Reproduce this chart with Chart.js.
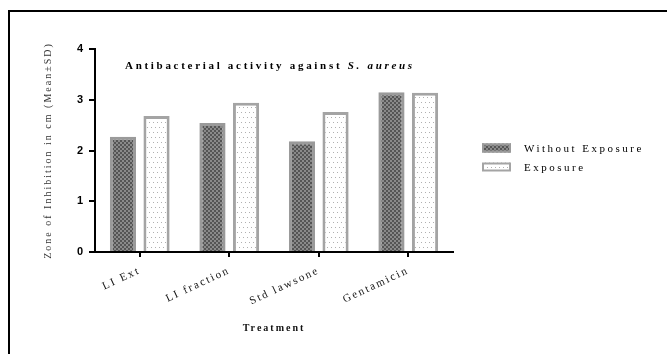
<!DOCTYPE html>
<html>
<head>
<meta charset="utf-8">
<script src="https://cdn.jsdelivr.net/npm/chart.js@4"></script>
<style>
  html, body { margin: 0; padding: 0; background: #fff; }
  #wrap { width: 667px; height: 354px; position: relative; }
</style>
</head>
<body>
<div id="wrap"><canvas id="c" width="667" height="354"></canvas></div>
<script>
// ---- data ----
const categories = ['LI Ext', 'LI fraction', 'Std lawsone', 'Gentamicin'];
const seriesNames = ['Without Exposure', 'Exposure'];
const withoutExposure = [2.27, 2.54, 2.18, 3.15];
const exposure = [2.68, 2.94, 2.76, 3.14];
const yTickValues = [0, 1, 2, 3, 4];
const titleMain = 'Antibacterial activity against ';
const titleItalic = 'S. aureus';
const yTitle = 'Zone of Inhibition in cm (Mean\u00b1SD)';
const xTitle = 'Treatment';

// ---- patterns ----
function makeChecker() {
  const c = document.createElement('canvas');
  c.width = 4; c.height = 4;
  const g = c.getContext('2d');
  g.fillStyle = '#8a8a8a'; g.fillRect(0, 0, 4, 4);
  g.fillStyle = '#555555';
  g.fillRect(0, 0, 2, 2); g.fillRect(2, 2, 2, 2);
  return g.createPattern(c, 'repeat');
}
function makeDots() {
  const c = document.createElement('canvas');
  c.width = 8; c.height = 10;
  const g = c.getContext('2d');
  g.fillStyle = '#ffffff'; g.fillRect(0, 0, 8, 10);
  g.fillStyle = '#b0b0b0';
  g.fillRect(1, 2, 1, 1); g.fillRect(5, 2, 1, 1);
  g.fillRect(3, 7, 1, 1); g.fillRect(7, 7, 1, 1);
  return g.createPattern(c, 'repeat');
}
const checker = makeChecker();
const dots = makeDots();

const SERIF = "'Liberation Serif', 'Times New Roman', serif";

const framePlugin = {
  id: 'frame',
  beforeDraw(chart) {
    const ctx = chart.ctx;
    ctx.save();
    ctx.fillStyle = '#fff';
    ctx.fillRect(0, 0, chart.width, chart.height);
    ctx.strokeStyle = '#000';
    ctx.lineWidth = 2;
    ctx.beginPath();
    ctx.moveTo(9, 354);
    ctx.lineTo(9, 11);
    ctx.lineTo(667, 11);
    ctx.stroke();
    ctx.restore();
    ctx.letterSpacing = '2px';
  },
  beforeDatasetsDraw(chart) {
    chart.ctx.letterSpacing = '0px';
  },
  afterDraw(chart) {
    const ctx = chart.ctx;
    ctx.save();
    // title
    ctx.letterSpacing = '2.7px';
    ctx.fillStyle = '#000';
    ctx.textBaseline = 'middle';
    ctx.textAlign = 'left';
    ctx.font = "bold 11px " + SERIF;
    const tx = 125, ty = 66;
    ctx.fillText(titleMain, tx, ty);
    const w = ctx.measureText(titleMain).width;
    ctx.font = "italic bold 11px " + SERIF;
    ctx.fillText(titleItalic, tx + w, ty);

    // legend
    ctx.font = "11px " + SERIF;
    ctx.letterSpacing = '2.5px';
    const ys = [148, 167];
    chart.data.datasets.forEach((ds, i) => {
      const y = ys[i];
      ctx.fillStyle = ds.backgroundColor;
      ctx.fillRect(482, y - 4.5, 29, 9);
      ctx.strokeStyle = ds.borderColor;
      ctx.lineWidth = 2;
      ctx.strokeRect(483, y - 3.5, 27, 7);
      ctx.fillStyle = '#000';
      ctx.fillText(ds.label, 524, y + 1);
    });
    ctx.restore();
  }
};

new Chart(document.getElementById('c'), {
  type: 'bar',
  data: {
    labels: categories,
    datasets: [
      {
        label: seriesNames[0],
        data: withoutExposure,
        backgroundColor: checker,
        borderColor: '#9a9a9a',
        borderWidth: 3,
        borderSkipped: 'start',
        categoryPercentage: 0.75,
        barPercentage: 0.78
      },
      {
        label: seriesNames[1],
        data: exposure,
        backgroundColor: dots,
        borderColor: '#a4a4a4',
        borderWidth: 3,
        borderSkipped: 'start',
        categoryPercentage: 0.75,
        barPercentage: 0.78
      }
    ]
  },
  options: {
    responsive: false,
    animation: false,
    devicePixelRatio: 1,
    layout: { padding: { left: 10, top: 49, right: 214, bottom: 0 } },
    plugins: {
      legend: { display: false },
      title: { display: false },
      tooltip: { enabled: false }
    },
    scales: {
      x: {
        type: 'category',
        afterFit(s) { s.height = 102; },
        grid: {
          offset: false,
          drawOnChartArea: false,
          color: '#000',
          lineWidth: 2,
          tickLength: 5
        },
        border: { display: true, color: '#000', width: 2 },
        ticks: {
          minRotation: 25,
          maxRotation: 25,
          padding: 7,
          color: '#111',
          font: { family: SERIF, size: 11 }
        },
        title: {
          display: true,
          text: xTitle,
          color: '#111',
          font: { family: SERIF, size: 10, weight: 'bold' },
          padding: { top: 0, bottom: 20 }
        }
      },
      y: {
        min: 0,
        max: 4,
        afterFit(s) { s.width = 85; },
        afterBuildTicks(s) { s.ticks = yTickValues.map(v => ({ value: v })); },
        grid: {
          drawOnChartArea: false,
          color: '#000',
          lineWidth: 2,
          tickLength: 6
        },
        border: { display: true, color: '#000', width: 2 },
        ticks: {
          stepSize: 1,
          padding: 4,
          color: '#000',
          font: { family: "'Liberation Sans', Arial, sans-serif", size: 11, weight: 'bold' }
        },
        title: {
          display: true,
          text: yTitle,
          color: '#333',
          font: { family: SERIF, size: 10 },
          padding: { top: 32, bottom: 0 }
        }
      }
    }
  },
  plugins: [framePlugin]
});
</script>
</body>
</html>
